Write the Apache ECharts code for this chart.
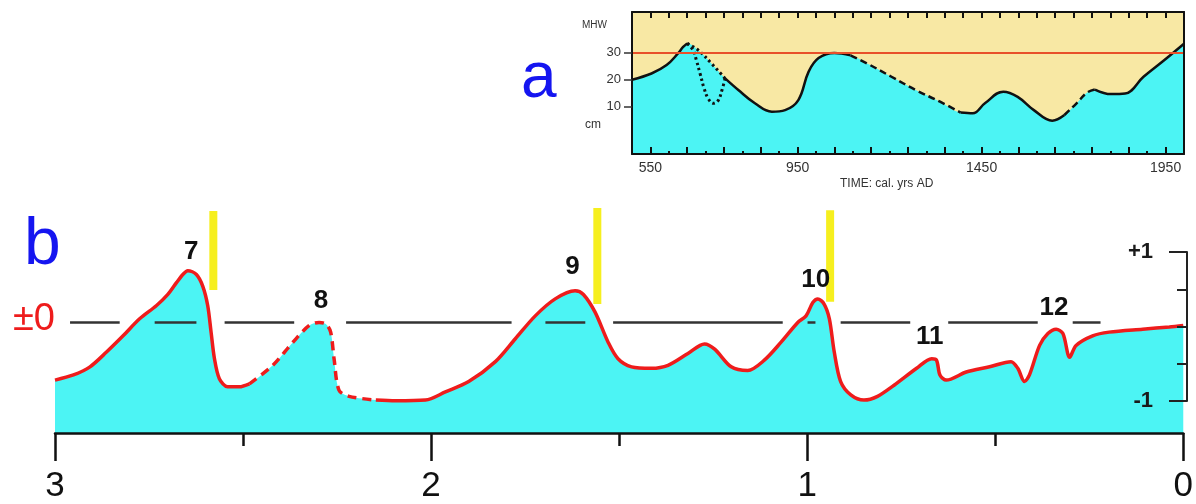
<!DOCTYPE html>
<html><head><meta charset="utf-8">
<script src="https://cdn.jsdelivr.net/npm/echarts@6/dist/echarts.min.js"></script>
<style>html,body{margin:0;padding:0;background:#fff}#c{width:1196px;height:504px}</style>
</head><body><div id="c"></div>
<script>
// ---- Panel a: relative sea level (cm), cal. yrs AD ----
const A_YEARS = [500, 553, 594, 625, 639, 650, 680, 716, 753, 789, 834, 880, 916, 952, 980, 1007, 1050, 1094, 1139, 1205, 1271, 1337, 1393, 1426, 1459, 1509, 1548, 1592, 1642, 1675, 1708, 1736, 1758, 1802, 1840, 1890, 1946, 2000];
const A_LEVEL = [20.0, 22.3, 25.4, 29.7, 32.1, 33.4, 30.9, 26.0, 20.5, 16.2, 11.3, 8.2, 8.8, 12.5, 23.0, 28.0, 29.9, 29.0, 26.0, 21.1, 16.2, 11.9, 7.9, 7.6, 11.3, 15.6, 13.7, 8.8, 4.9, 7.0, 11.3, 15.2, 16.4, 14.7, 14.9, 21.1, 27.2, 33.3];
const A_ALT_YEARS = [650, 666, 675, 685, 696, 707, 721, 734, 745, 753];
const A_ALT_LEVEL = [33.4, 30.9, 27.2, 22.3, 16.8, 13.1, 11.3, 12.3, 16.4, 20.5];
const A_MHW = 30;
const A_TICK_LABELS = [550, 950, 1450, 1950];
const A_Y_LABELS = [10, 20, 30];
const A_LONG_TICKS = [550, 650, 750, 850, 950, 1050, 1150, 1250, 1350, 1450, 1550, 1650, 1750, 1850, 1950];
// line style of each stretch of the panel-a curve: [from, to, style]
const A_SEGMENTS = [[500, 650, 'solid'], [650, 753, 'dotted'], [753, 1094, 'solid'], [1094, 1393, 'dashed'], [1393, 1675, 'solid'], [1675, 1758, 'dashed'], [1758, 2000, 'solid']];

// ---- Panel b: sea-level curve, kyr BP ----
const B_KYR = [3.0, 2.951, 2.907, 2.863, 2.819, 2.775, 2.730, 2.700, 2.677, 2.660, 2.647, 2.624, 2.607, 2.594, 2.585, 2.576, 2.563, 2.541, 2.510, 2.483, 2.421, 2.368, 2.324, 2.298, 2.280, 2.267, 2.258, 2.245, 2.218, 2.147, 2.094, 2.015, 1.962, 1.900, 1.829, 1.776, 1.723, 1.670, 1.617, 1.595, 1.564, 1.529, 1.503, 1.467, 1.414, 1.370, 1.317, 1.273, 1.246, 1.202, 1.158, 1.114, 1.070, 1.025, 1.003, 0.985, 0.972, 0.955, 0.941, 0.928, 0.911, 0.884, 0.849, 0.813, 0.769, 0.709, 0.669, 0.656, 0.647, 0.630, 0.577, 0.515, 0.458, 0.440, 0.422, 0.409, 0.382, 0.360, 0.338, 0.320, 0.302, 0.285, 0.241, 0.197, 0.108, 0.037, 0.0];
const B_LEVEL = [-0.74, -0.67, -0.56, -0.36, -0.14, 0.09, 0.27, 0.42, 0.58, 0.69, 0.74, 0.69, 0.53, 0.27, -0.09, -0.45, -0.72, -0.83, -0.83, -0.79, -0.54, -0.23, 0.0, 0.04, 0.02, -0.09, -0.45, -0.875, -0.96, -1.01, -1.02, -1.01, -0.90, -0.76, -0.49, -0.18, 0.13, 0.36, 0.47, 0.42, 0.18, -0.23, -0.45, -0.56, -0.58, -0.54, -0.38, -0.25, -0.32, -0.56, -0.61, -0.47, -0.23, 0.04, 0.13, 0.31, 0.36, 0.29, 0.09, -0.36, -0.76, -0.94, -1.01, -0.96, -0.81, -0.58, -0.45, -0.47, -0.67, -0.74, -0.63, -0.56, -0.49, -0.58, -0.76, -0.67, -0.27, -0.11, -0.05, -0.11, -0.43, -0.27, -0.14, -0.09, -0.05, -0.02, 0.0];
// dashed stretch of panel-b curve (kyr): [from, to]
const B_DASHED = [2.147, 2.483];
const B_TICK_LABELS = ['3', '2', '1', '0'];
// peak labels
const B_PEAK_NAMES = ['7', '8', '9', '10', '11', '12'];
const B_PEAK_KYR = [2.638, 2.293, 1.624, 0.977, 0.674, 0.344];
const B_PEAK_LEVEL = [1.00, 0.33, 0.79, 0.62, -0.16, 0.24];
// yellow marker bars
const B_BAR_KYR = [2.579, 1.558, 0.939];
const B_BAR_TOP = [1.55, 1.59, 1.56];
const B_BAR_BOTTOM = [0.48, 0.29, 0.32];
// hand-drawn ±0 reference line pieces (kyr)
const B_ZERO_LEVEL = 0.04;
const B_ZERO_PIECES = [[2.960, 2.828], [2.735, 2.624], [2.549, 2.364], [2.226, 1.786], [1.696, 1.590], [1.516, 1.065], [0.999, 0.978], [0.911, 0.726], [0.625, 0.387], [0.294, 0.220]];

const CYAN = '#4cf4f4';
const YELLOW_BG = '#f8e8a4';
const RED = '#ee1c1c';
const FONT = 'Liberation Sans, Arial, sans-serif';

function pairs(xs, ys) { return xs.map((x, i) => [x, ys[i]]); }
function segment(xs, ys, lo, hi) {
  const out = [];
  xs.forEach((x, i) => { if (x >= lo - 1e-9 && x <= hi + 1e-9) out.push([x, ys[i]]); });
  return out;
}

const series = [];
// panel a fill
series.push({ type: 'line', xAxisIndex: 1, yAxisIndex: 0, data: pairs(A_YEARS, A_LEVEL), smooth: 0.4,
  symbol: 'none', lineStyle: { width: 0 }, areaStyle: { color: CYAN, opacity: 1, origin: 'start' }, z: 1,
  markLine: { silent: true, symbol: 'none', label: { show: false }, lineStyle: { color: '#e8502a', width: 2, type: 'solid' }, data: [{ yAxis: A_MHW }] } });
// panel a curve segments
const dashMap = { solid: 'solid', dotted: [2.5, 3], dashed: [7, 4] };
A_SEGMENTS.forEach(s => {
  series.push({ type: 'line', xAxisIndex: 1, yAxisIndex: 0, data: segment(A_YEARS, A_LEVEL, s[0], s[1]), smooth: 0.4,
    symbol: 'none', lineStyle: { color: '#111', width: s[2] === 'dotted' ? 3 : 2.5, type: dashMap[s[2]] }, z: 4 });
});
series.push({ type: 'line', xAxisIndex: 1, yAxisIndex: 0, data: pairs(A_ALT_YEARS, A_ALT_LEVEL), smooth: 0.4,
  symbol: 'none', lineStyle: { color: '#111', width: 3, type: [2.5, 3] }, z: 4 });

// panel b fill
series.push({ type: 'line', xAxisIndex: 3, yAxisIndex: 2, data: pairs(B_KYR, B_LEVEL), smooth: 0.3,
  symbol: 'none', lineStyle: { width: 0 }, areaStyle: { color: CYAN, opacity: 1, origin: 'start' }, z: 1 });
// ±0 reference line
B_ZERO_PIECES.forEach(p => {
  series.push({ type: 'line', xAxisIndex: 3, yAxisIndex: 2, data: [[p[0], B_ZERO_LEVEL], [p[1], B_ZERO_LEVEL]],
    symbol: 'none', lineStyle: { color: '#333', width: 2.5 }, z: 3 });
});
// red curve: solid / dashed / solid
series.push({ type: 'line', xAxisIndex: 3, yAxisIndex: 2, data: segment(B_KYR, B_LEVEL, B_DASHED[1], 3), smooth: 0.3,
  symbol: 'none', lineStyle: { color: RED, width: 3.5 }, z: 5 });
series.push({ type: 'line', xAxisIndex: 3, yAxisIndex: 2, data: segment(B_KYR, B_LEVEL, B_DASHED[0], B_DASHED[1]), smooth: 0.3,
  symbol: 'none', lineStyle: { color: RED, width: 3.5, type: [9, 6] }, z: 5 });
series.push({ type: 'line', xAxisIndex: 3, yAxisIndex: 2, data: segment(B_KYR, B_LEVEL, 0, B_DASHED[0]), smooth: 0.3,
  symbol: 'none', lineStyle: { color: RED, width: 3.5 }, z: 5 });
// yellow bars
B_BAR_KYR.forEach((k, i) => {
  series.push({ type: 'line', xAxisIndex: 3, yAxisIndex: 2, data: [[k, B_BAR_TOP[i]], [k, B_BAR_BOTTOM[i]]],
    symbol: 'none', lineStyle: { color: '#f6ef1e', width: 8, cap: 'butt' }, z: 6 });
});
// peak labels
series.push({ type: 'scatter', xAxisIndex: 3, yAxisIndex: 2, symbolSize: 0, itemStyle: { color: '#111', opacity: 1 },
  data: B_PEAK_NAMES.map((n, i) => ({ name: n, value: [B_PEAK_KYR[i], B_PEAK_LEVEL[i]] })),
  label: { show: true, position: 'inside', formatter: p => p.name, fontFamily: FONT, fontSize: 26, fontWeight: 'bold',
    color: '#111', opacity: 1, textBorderWidth: 0 }, z: 7 });

const option = {
  animation: false,
  backgroundColor: '#fff',
  grid: [
    { left: 632, top: 12, width: 552, height: 142, show: true, backgroundColor: YELLOW_BG, borderWidth: 0 },
    { left: 55, right: 9, top: 207.3, height: 227.7 },
    { left: 55, right: 9, top: 252, height: 149 }
  ],
  xAxis: [
    { gridIndex: 0, type: 'value', position: 'top', min: 500, max: 2000, interval: 50, z: 10,
      axisLine: { show: true, onZero: false, lineStyle: { color: '#111', width: 2 } },
      axisTick: { show: true, inside: true, length: 6, lineStyle: { color: '#111', width: 2 } },
      axisLabel: { show: false }, splitLine: { show: false } },
    { gridIndex: 0, type: 'value', position: 'bottom', min: 500, max: 2000, interval: 50, z: 10,
      axisLine: { show: true, onZero: false, lineStyle: { color: '#111', width: 2 } },
      axisTick: { show: true, inside: true, length: 3, lineStyle: { color: '#111', width: 2 } },
      axisLabel: { show: true, customValues: A_TICK_LABELS, margin: 7, fontFamily: FONT, fontSize: 14, color: '#333', formatter: v => String(v) },
      splitLine: { show: false } },
    { gridIndex: 0, type: 'value', position: 'bottom', min: 500, max: 2000, z: 10,
      axisLine: { show: false, onZero: false },
      axisTick: { show: true, inside: true, length: 7, customValues: A_LONG_TICKS, lineStyle: { color: '#111', width: 2 } },
      axisLabel: { show: false }, splitLine: { show: false } },
    { gridIndex: 1, type: 'value', inverse: true, min: 0, max: 3, interval: 1, z: 10,
      axisLine: { show: true, onZero: false, lineStyle: { color: '#111', width: 2.5 } },
      axisTick: { show: true, length: 28, lineStyle: { color: '#111', width: 2.5 } },
      minorTick: { show: true, splitNumber: 2, length: 13, lineStyle: { color: '#111', width: 2.5 } },
      axisLabel: { show: true, margin: 36, fontFamily: FONT, fontSize: 35, color: '#111', formatter: v => B_TICK_LABELS[3 - Math.round(v)] },
      splitLine: { show: false }, minorSplitLine: { show: false } },
    { gridIndex: 2, type: 'value', inverse: true, min: 0, max: 3, show: false }
  ],
  yAxis: [
    { gridIndex: 0, type: 'value', min: -7.4, max: 45, z: 10,
      axisLine: { show: true, onZero: false, lineStyle: { color: '#111', width: 2 } },
      axisTick: { show: true, customValues: A_Y_LABELS, length: 8, lineStyle: { color: '#333', width: 1.5 } },
      axisLabel: { show: true, customValues: A_Y_LABELS, margin: 11, fontFamily: FONT, fontSize: 13, color: '#333' },
      splitLine: { show: false } },
    { gridIndex: 0, type: 'value', position: 'right', min: -7.4, max: 45, z: 10,
      axisLine: { show: true, onZero: false, lineStyle: { color: '#111', width: 2 } },
      axisTick: { show: false }, axisLabel: { show: false }, splitLine: { show: false } },
    { gridIndex: 1, type: 'value', min: -1.456, max: 1.6, show: false },
    { gridIndex: 2, type: 'value', position: 'right', min: -1, max: 1, z: 10,
      axisLine: { show: true, onZero: false, lineStyle: { color: '#222', width: 2 } },
      axisTick: { show: true, inside: true, length: 18, customValues: [-1, 1], lineStyle: { color: '#222', width: 2 } },
      axisLabel: { show: true, inside: true, margin: 34, customValues: [-1, 1], showMinLabel: true, showMaxLabel: true, hideOverlap: false,
        formatter: v => (v > 0 ? '+1' : '-1'), fontFamily: FONT, fontSize: 22, fontWeight: 'bold', color: '#1a1a1a' },
      splitLine: { show: false } },
    { gridIndex: 2, type: 'value', position: 'right', min: -1, max: 1, z: 10,
      axisLine: { show: false, onZero: false },
      axisTick: { show: true, inside: true, length: 10, customValues: [-0.5, 0, 0.5], lineStyle: { color: '#222', width: 2 } },
      axisLabel: { show: false }, splitLine: { show: false } }
  ],
  graphic: [
    { type: 'text', left: 521, top: 47, style: { text: 'a', font: '64px ' + FONT, fill: '#1515f0' } },
    { type: 'text', left: 24, top: 213, style: { text: 'b', font: '66px ' + FONT, fill: '#1515f0' } },
    { type: 'text', left: 13, top: 301, style: { text: '±0', font: '38px ' + FONT, fill: '#ee1c1c' } },
    { type: 'text', left: 582, top: 20, style: { text: 'MHW', font: '10px ' + FONT, fill: '#333' } },
    { type: 'text', left: 585, top: 119, style: { text: 'cm', font: '12px ' + FONT, fill: '#333' } },
    { type: 'text', left: 840, top: 178, style: { text: 'TIME: cal. yrs AD', font: '12px ' + FONT, fill: '#333' } }
  ],
  series: series
};
const chart = echarts.init(document.getElementById('c'), null, { renderer: 'canvas' });
chart.setOption(option);
</script>
</body></html>
